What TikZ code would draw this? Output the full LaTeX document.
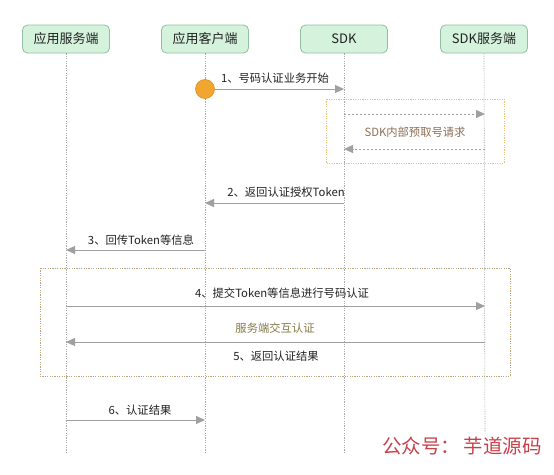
\documentclass[tikz,border=0pt]{standalone}
\usepackage{fontspec}
\setmainfont{Noto Sans CJK SC}
\usetikzlibrary{arrows.meta}
\definecolor{hdrfill}{HTML}{D5F2DD}
\definecolor{hdrdraw}{HTML}{93BFA0}
\definecolor{lifec}{HTML}{A8A8A8}
\definecolor{msgc}{HTML}{A0A0A0}
\definecolor{txtc}{HTML}{222222}
\definecolor{startfill}{HTML}{F2A630}
\definecolor{startdraw}{HTML}{D98E1E}
\definecolor{sdkbox}{HTML}{E8C27A}
\definecolor{bigbox}{HTML}{B9A57F}
\definecolor{sdktxt}{HTML}{8C6E55}
\definecolor{srvtxt}{HTML}{857A45}
\definecolor{wmred}{HTML}{C8404A}
\tikzset{
  hdr/.style={draw=hdrdraw, fill=hdrfill, rounded corners=5pt, line width=0.8pt,
    minimum width=87pt, minimum height=28pt, inner sep=0pt, text=txtc,
    font=\fontsize{13pt}{15pt}\selectfont},
  life/.style={draw=lifec, line width=0.6pt, dash pattern=on 1.2pt off 1.2pt},
  msg/.style={draw=msgc, line width=1pt, -{Triangle[length=9pt,width=8pt]}},
  imsg/.style={draw=msgc, line width=0.8pt, dash pattern=on 2pt off 2pt, -{Triangle[length=9pt,width=8pt]}},
  lbl/.style={text=txtc, inner sep=0pt, font=\fontsize{11.3pt}{13pt}\selectfont},
}
\begin{document}
\begin{tikzpicture}[x=1pt,y=-1pt]
\useasboundingbox[fill=white] (0,0) rectangle (554,474);
% headers
\node[hdr] (h1) at (66,39) {应用服务端};
\node[hdr] (h2) at (205,39) {应用客户端};
\node[hdr] (h3) at (344,39) {SDK};
\node[hdr] (h4) at (484,39) {SDK服务端};
% lifelines
\coordinate (e1) at (66,452);
\coordinate (e2) at (205,452);
\coordinate (e3) at (344,452);
\coordinate (e4) at (485,432);
\draw[life] (h1.south) -- (e1);
\draw[life] (h2.south) -- (e2);
\draw[life] (h3.south) -- (e3);
\draw[life] (h4.south) -- (e4);
% frames
\draw[draw=sdkbox, line width=0.8pt, dash pattern=on 1.2pt off 1.2pt] (326,99) rectangle (504,163);
\draw[draw=bigbox, line width=0.8pt, dash pattern=on 1.2pt off 1.2pt] (40,268) rectangle (510,376);
% step 1
\node[circle, fill=startfill, draw=startdraw, line width=0.6pt, minimum size=19pt, inner sep=0pt] (st) at (205,89) {};
\coordinate (p1) at (344,89);
\draw[msg] (st) -- (p1);
\node[lbl] (l1) at (275,78) {1、号码认证业务开始};
% SDK internal
\coordinate (q1) at (344,114);
\coordinate (q2) at (485,114);
\draw[imsg] (q1) -- (q2);
\node[lbl, text=sdktxt] (l1b) at (415,132) {SDK内部预取号请求};
\coordinate (q3) at (485,149);
\coordinate (q4) at (344,149);
\draw[imsg] (q3) -- (q4);
% step 2
\coordinate (p2a) at (344,203);
\coordinate (p2b) at (205,203);
\draw[msg] (p2a) -- (p2b);
\node[lbl] (l2) at (286,192) {2、返回认证授权Token};
% step 3
\coordinate (p3a) at (205,250);
\coordinate (p3b) at (66,250);
\draw[msg] (p3a) -- (p3b);
\node[lbl] (l3) at (141,240) {3、回传Token等信息};
% step 4
\coordinate (p4a) at (66,306);
\coordinate (p4b) at (485,306);
\draw[msg] (p4a) -- (p4b);
\node[lbl] (l4) at (282,293) {4、提交Token等信息进行号码认证};
\node[lbl, text=srvtxt] (l45) at (275,328) {服务端交互认证};
% step 5
\coordinate (p5a) at (485,342);
\coordinate (p5b) at (66,342);
\draw[msg] (p5a) -- (p5b);
\node[lbl] (l5) at (276,356) {5、返回认证结果};
% step 6
\coordinate (p6a) at (66,420);
\coordinate (p6b) at (205,420);
\draw[msg] (p6a) -- (p6b);
\node[lbl] (l6) at (140,410) {6、认证结果};
% watermark
\node[text=wmred, inner sep=0pt, font=\fontsize{19.5pt}{21pt}\selectfont] (wm) at (462,446) {公众号：\,芋道源码};
\end{tikzpicture}
\end{document}
